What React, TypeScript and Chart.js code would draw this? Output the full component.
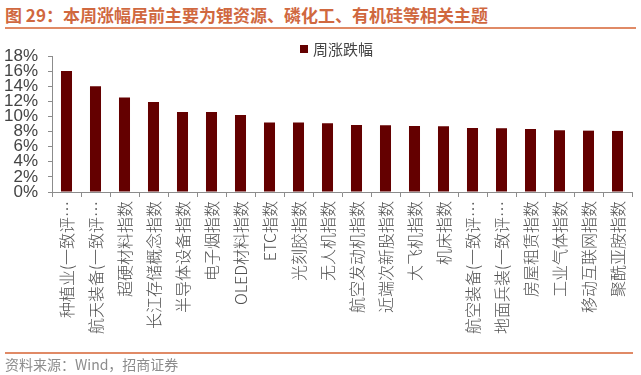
import React, { useEffect, useRef } from "react";
import { Chart, registerables } from "chart.js";

Chart.register(...registerables);

const categories: string[] = [
  "种植业(一致评…",
  "航天装备(一致评…",
  "超硬材料指数",
  "长江存储概念指数",
  "半导体设备指数",
  "电子烟指数",
  "OLED材料指数",
  "ETC指数",
  "光刻胶指数",
  "无人机指数",
  "航空发动机指数",
  "近端次新股指数",
  "大飞机指数",
  "机床指数",
  "航空装备(一致评…",
  "地面兵装(一致评…",
  "房屋租赁指数",
  "工业气体指数",
  "移动互联网指数",
  "聚酰亚胺指数",
];

const weeklyChange: number[] = [
  16.0, 14.0, 12.5, 11.9, 10.6, 10.6, 10.2, 9.2, 9.2, 9.1,
  8.87, 8.83, 8.74, 8.7, 8.48, 8.44, 8.34, 8.17, 8.12, 8.08,
];

const seriesName = "周涨跌幅";
const yTicks: number[] = [0, 2, 4, 6, 8, 10, 12, 14, 16, 18];
const titleText = "图 29：本周涨幅居前主要为锂资源、磷化工、有机硅等相关主题";
const sourceText = "资料来源：Wind，招商证券";

const BAR_COLOR = "#640000";
const AXIS_COLOR = "#8c8c8c";
const TEXT_COLOR = "#444444";
const ACCENT = "#D0683F";

export default function App() {
  const ref = useRef<HTMLCanvasElement | null>(null);

  useEffect(() => {
    if (!ref.current) return;
    const chart = new Chart(ref.current, {
      type: "bar",
      data: {
        labels: categories,
        datasets: [
          {
            label: seriesName,
            data: weeklyChange,
            backgroundColor: BAR_COLOR,
            borderWidth: 0,
            barPercentage: 0.38,
            categoryPercentage: 1,
          },
        ],
      },
      options: {
        animation: false,
        responsive: false,
        maintainAspectRatio: false,
        layout: { padding: { left: 0, right: 9, top: 56, bottom: 33 } },
        plugins: {
          legend: { display: false },
          tooltip: { enabled: false },
          title: { display: false },
        },
        scales: {
          x: {
            offset: true,
            grid: {
              offset: true,
              drawOnChartArea: false,
              drawTicks: true,
              tickLength: 5,
              color: AXIS_COLOR,
            },
            border: { color: AXIS_COLOR, width: 1 },
            ticks: {
              autoSkip: false,
              maxRotation: 90,
              minRotation: 90,
              padding: 4,
              color: "#505050",
              font: { family: "'Noto Sans CJK SC', sans-serif", size: 16, weight: "300" as any },
            },
            afterFit: (scale: any) => {
              scale.height = 150;
            },
          },
          y: {
            min: 0,
            max: 18,
            afterBuildTicks: (scale: any) => {
              scale.ticks = yTicks.map((v) => ({ value: v }));
            },
            grid: {
              drawOnChartArea: false,
              drawTicks: true,
              tickLength: 4,
              color: AXIS_COLOR,
            },
            border: { color: AXIS_COLOR, width: 1 },
            ticks: {
              autoSkip: false,
              padding: 10,
              color: TEXT_COLOR,
              font: { family: "'Liberation Sans', Arial, sans-serif", size: 17 },
              callback: (v: any) => `${v}%`,
            },
            afterFit: (scale: any) => {
              scale.width = 52;
            },
          },
        },
      },
    });
    return () => chart.destroy();
  }, []);

  return (
    <div
      style={{
        position: "fixed",
        left: 0,
        top: 0,
        width: 641,
        height: 375,
        background: "#fff",
        overflow: "hidden",
      }}
    >
      <div
        style={{
          position: "absolute",
          left: 5,
          top: 4,
          fontFamily: "'Noto Sans CJK SC', sans-serif",
          fontWeight: 700,
          fontSize: 17,
          lineHeight: "22px",
          color: ACCENT,
          whiteSpace: "nowrap",
        }}
      >
        {titleText}
      </div>
      <div
        style={{
          position: "absolute",
          left: 5,
          top: 27,
          width: 631,
          height: 2,
          background: "#E08A66",
        }}
      />
      <canvas
        ref={ref}
        width={641}
        height={375}
        style={{ position: "absolute", left: 0, top: 0, width: 641, height: 375 }}
      />
      <div
        style={{
          position: "absolute",
          left: 300,
          top: 38,
          display: "flex",
          alignItems: "center",
          fontFamily: "'Noto Sans CJK SC', sans-serif",
          fontSize: 15,
          color: TEXT_COLOR,
          whiteSpace: "nowrap",
        }}
      >
        <span
          style={{
            display: "inline-block",
            width: 8,
            height: 8,
            background: BAR_COLOR,
            marginRight: 5,
          }}
        />
        {seriesName}
      </div>
      <div
        style={{
          position: "absolute",
          left: 5,
          top: 352,
          width: 628,
          height: 2,
          background: "#E08A66",
        }}
      />
      <div
        style={{
          position: "absolute",
          left: 5,
          top: 355,
          fontFamily: "'Noto Sans CJK SC', sans-serif",
          fontSize: 14,
          lineHeight: "19px",
          color: "#8c8c8c",
          whiteSpace: "nowrap",
        }}
      >
        {sourceText}
      </div>
    </div>
  );
}
